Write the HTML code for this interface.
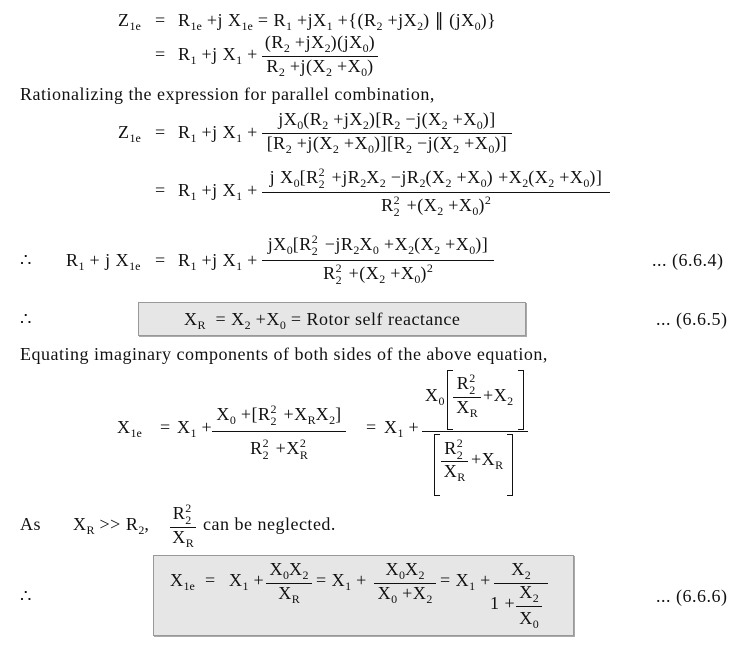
<!DOCTYPE html>
<html><head><meta charset="utf-8"><style>
body{margin:0;background:#fff;}
#p{position:relative;width:736px;height:650px;overflow:hidden;font-family:"Liberation Serif",serif;font-size:18px;letter-spacing:0.5px;color:#111;}
.a{position:absolute;white-space:nowrap;line-height:17px;}
.c{text-align:center;}
sub,sup{font-size:12px;line-height:0;letter-spacing:0;}
sub{vertical-align:-4px;}
sup{vertical-align:7px;}
.s{display:inline-block;position:relative;width:8px;height:0;}
.s i{position:absolute;left:0;font-style:normal;font-size:12px;line-height:0;}
.s i.u{top:-11px}.s i.d{top:1px}
.l{position:absolute;border-top:1px solid #111;height:0;}
.box{position:absolute;background:#e6e6e6;border:1px solid #999;box-shadow:1px 1px 0 #aaa;}
.br{position:absolute;border:1px solid #111;width:5px;}
.bl{border-right:none}.brr{border-left:none}
</style></head><body><div id="p">

<div class="a" style="left:118px;top:12px">Z<sub>1e</sub></div>
<div class="a" style="left:155px;top:12px">=</div>
<div class="a" style="left:178px;top:12px">R<sub>1e</sub> +j X<sub>1e</sub> = R<sub>1</sub> +jX<sub>1</sub> +{(R<sub>2</sub> +jX<sub>2</sub>) ∥ (jX<sub>0</sub>)}</div>

<div class="a" style="left:155px;top:46px">=</div>
<div class="a" style="left:178px;top:46px">R<sub>1</sub> +j X<sub>1</sub> +</div>
<div class="a c" style="left:262px;width:116px;top:34px">(R<sub>2</sub> +jX<sub>2</sub>)(jX<sub>0</sub>)</div>
<div class="l" style="left:262px;width:116px;top:56px"></div>
<div class="a c" style="left:262px;width:116px;top:58px">R<sub>2</sub> +j(X<sub>2</sub> +X<sub>0</sub>)</div>

<div class="a" style="left:20px;top:86px">Rationalizing the expression for parallel combination,</div>

<div class="a" style="left:118px;top:124px">Z<sub>1e</sub></div>
<div class="a" style="left:155px;top:124px">=</div>
<div class="a" style="left:178px;top:124px">R<sub>1</sub> +j X<sub>1</sub> +</div>
<div class="a c" style="left:262px;width:250px;top:111px">jX<sub>0</sub>(R<sub>2</sub> +jX<sub>2</sub>)[R<sub>2</sub> −j(X<sub>2</sub> +X<sub>0</sub>)]</div>
<div class="l" style="left:262px;width:250px;top:133px"></div>
<div class="a c" style="left:262px;width:250px;top:135px">[R<sub>2</sub> +j(X<sub>2</sub> +X<sub>0</sub>)][R<sub>2</sub> −j(X<sub>2</sub> +X<sub>0</sub>)]</div>

<div class="a" style="left:155px;top:182px">=</div>
<div class="a" style="left:178px;top:182px">R<sub>1</sub> +j X<sub>1</sub> +</div>
<div class="a c" style="left:262px;width:348px;top:169px">j X<sub>0</sub>[R<span class="s"><i class="u">2</i><i class="d">2</i></span> +jR<sub>2</sub>X<sub>2</sub> −jR<sub>2</sub>(X<sub>2</sub> +X<sub>0</sub>) +X<sub>2</sub>(X<sub>2</sub> +X<sub>0</sub>)]</div>
<div class="l" style="left:262px;width:348px;top:192px"></div>
<div class="a c" style="left:262px;width:348px;top:197px">R<span class="s"><i class="u">2</i><i class="d">2</i></span> +(X<sub>2</sub> +X<sub>0</sub>)<sup>2</sup></div>

<div class="a" style="left:20px;top:252px">∴</div>
<div class="a" style="left:66px;top:252px">R<sub>1</sub> + j X<sub>1e</sub></div>
<div class="a" style="left:155px;top:252px">=</div>
<div class="a" style="left:178px;top:252px">R<sub>1</sub> +j X<sub>1</sub> +</div>
<div class="a c" style="left:262px;width:232px;top:236px">jX<sub>0</sub>[R<span class="s"><i class="u">2</i><i class="d">2</i></span> −jR<sub>2</sub>X<sub>0</sub> +X<sub>2</sub>(X<sub>2</sub> +X<sub>0</sub>)]</div>
<div class="l" style="left:262px;width:232px;top:260px"></div>
<div class="a c" style="left:262px;width:232px;top:265px">R<span class="s"><i class="u">2</i><i class="d">2</i></span> +(X<sub>2</sub> +X<sub>0</sub>)<sup>2</sup></div>
<div class="a" style="left:652px;top:252px">... (6.6.4)</div>

<div class="box" style="left:138px;top:302px;width:386px;height:32px"></div>
<div class="a" style="left:20px;top:311px">∴</div>
<div class="a" style="left:184px;top:311px">X<sub>R</sub> &nbsp;= X<sub>2</sub> +X<sub>0</sub> = Rotor self reactance</div>
<div class="a" style="left:656px;top:311px">... (6.6.5)</div>

<div class="a" style="left:20px;top:346px">Equating imaginary components of both sides of the above equation,</div>

<div class="a" style="left:117px;top:419px">X<sub>1e</sub></div>
<div class="a" style="left:160px;top:419px">=</div>
<div class="a" style="left:177px;top:419px">X<sub>1</sub> +</div>
<div class="a c" style="left:212px;width:134px;top:406px">X<sub>0</sub> +[R<span class="s"><i class="u">2</i><i class="d">2</i></span> +X<sub>R</sub>X<sub>2</sub>]</div>
<div class="l" style="left:212px;width:134px;top:431px"></div>
<div class="a c" style="left:212px;width:134px;top:440px">R<span class="s"><i class="u">2</i><i class="d">2</i></span> +X<span class="s"><i class="u">2</i><i class="d">R</i></span></div>
<div class="a" style="left:366px;top:419px">=</div>
<div class="a" style="left:384px;top:419px">X<sub>1</sub> +</div>
<div class="l" style="left:422px;width:106px;top:431px"></div>
<div class="a" style="left:425px;top:387px">X<sub>0</sub></div>
<div class="br bl" style="left:447px;top:370px;height:58px"></div>
<div class="a c" style="left:453px;width:28px;top:375px">R<span class="s"><i class="u">2</i><i class="d">2</i></span></div>
<div class="l" style="left:453px;width:28px;top:397px"></div>
<div class="a c" style="left:453px;width:28px;top:399px">X<sub>R</sub></div>
<div class="a" style="left:483px;top:387px">+X<sub>2</sub></div>
<div class="br brr" style="left:518px;top:370px;height:58px"></div>
<div class="br bl" style="left:434px;top:434px;height:60px"></div>
<div class="a c" style="left:441px;width:27px;top:440px">R<span class="s"><i class="u">2</i><i class="d">2</i></span></div>
<div class="l" style="left:441px;width:27px;top:461px"></div>
<div class="a c" style="left:441px;width:27px;top:463px">X<sub>R</sub></div>
<div class="a" style="left:471px;top:451px">+X<sub>R</sub></div>
<div class="br brr" style="left:507px;top:434px;height:60px"></div>

<div class="a" style="left:20px;top:516px">As</div>
<div class="a" style="left:73px;top:516px">X<sub>R</sub> &gt;&gt; R<sub>2</sub>,</div>
<div class="a c" style="left:170px;width:26px;top:505px">R<span class="s"><i class="u">2</i><i class="d">2</i></span></div>
<div class="l" style="left:170px;width:26px;top:527px"></div>
<div class="a c" style="left:170px;width:26px;top:529px">X<sub>R</sub></div>
<div class="a" style="left:203px;top:516px">can be neglected.</div>

<div class="box" style="left:153px;top:555px;width:419px;height:79px"></div>
<div class="a" style="left:20px;top:588px">∴</div>
<div class="a" style="left:170px;top:572px">X<sub>1e</sub></div>
<div class="a" style="left:205px;top:572px">=</div>
<div class="a" style="left:229px;top:572px">X<sub>1</sub> +</div>
<div class="a c" style="left:266px;width:46px;top:561px">X<sub>0</sub>X<sub>2</sub></div>
<div class="l" style="left:266px;width:46px;top:583px"></div>
<div class="a c" style="left:266px;width:46px;top:585px">X<sub>R</sub></div>
<div class="a" style="left:316px;top:572px">= X<sub>1</sub> +</div>
<div class="a c" style="left:374px;width:62px;top:561px">X<sub>0</sub>X<sub>2</sub></div>
<div class="l" style="left:374px;width:62px;top:583px"></div>
<div class="a c" style="left:374px;width:62px;top:585px">X<sub>0</sub> +X<sub>2</sub></div>
<div class="a" style="left:440px;top:572px">= X<sub>1</sub> +</div>
<div class="a c" style="left:494px;width:54px;top:561px">X<sub>2</sub></div>
<div class="l" style="left:494px;width:54px;top:583px"></div>
<div class="a" style="left:490px;top:595px">1 +</div>
<div class="a c" style="left:516px;width:26px;top:584px">X<sub>2</sub></div>
<div class="l" style="left:516px;width:26px;top:606px"></div>
<div class="a c" style="left:516px;width:26px;top:610px">X<sub>0</sub></div>
<div class="a" style="left:656px;top:588px">... (6.6.6)</div>

</div></body></html>
